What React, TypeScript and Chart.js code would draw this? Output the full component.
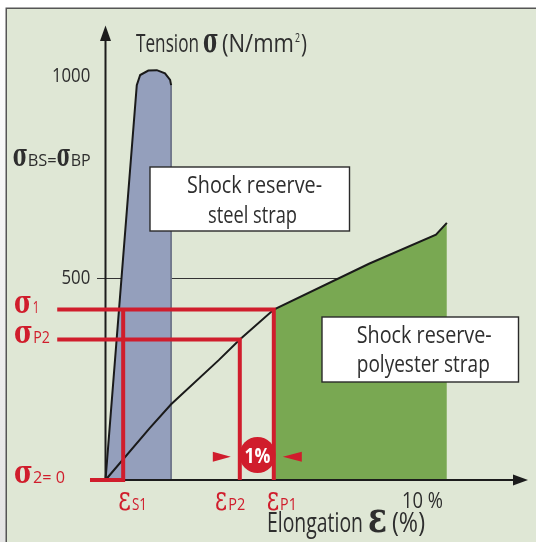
import React, { useEffect, useRef } from "react";
import { Chart, registerables } from "chart.js";
Chart.register(...registerables);

// ---- Data (strain ε in %, stress σ in N/mm²) ----
const steelStrain = [0, 0.92, 1.02, 1.26, 1.51, 1.75, 1.9, 1.93];
const steelStress = [0, 975, 1000, 1011, 1012, 1004, 988, 975];
const polyStrain = [0, 1.3, 1.93, 3.33, 3.95, 4.95, 7.75, 9.72, 10.04];
const polyStress = [0, 128, 187, 296, 347, 421, 534, 606, 635];
const polyReserveStart = 5; // index of εP1 in the polyester arrays
const strainMarks = [0.52, 3.95, 4.95]; // εS1, εP2, εP1
const stressMarks = [421, 347]; // σ1, σP2
const redLineStart = -1.42; // strain where σ1 / σP2 guides start
const sigma2Start = -0.456;
const yTickValues = [1000, 500];
const yTickLabels = ["1000", "500"];
const xTickValues = [10];
const xTickLabels = ["10 %"];
const gridStress = 500;
const gridEndStrain = 6.91;

const RED = "#d01d2c";
const BLUE = "#949fbc";
const GREEN = "#79a852";
const BG = "#dfe7d5";
const TXT = "#2e2e2e";
const SANS = '"Open Sans", "Liberation Sans", Arial, sans-serif';
const SERIF = '"DejaVu Serif", "Liberation Serif", serif';

type Run = { t: string; font: string; w?: number; sx?: number; dy?: number; gap?: number; color?: string };

function runsWidth(ctx: CanvasRenderingContext2D, runs: Run[]) {
  let w = 0;
  for (const r of runs) {
    ctx.font = r.font;
    const m = ctx.measureText(r.t).width;
    const sx = r.w ? r.w / m : r.sx ?? 1;
    w += (r.gap || 0) + m * sx;
  }
  return w;
}

function drawRuns(ctx: CanvasRenderingContext2D, x: number, y: number, runs: Run[], color: string, align: "left" | "right" | "center" = "left") {
  let cx = x;
  if (align !== "left") {
    const tw = runsWidth(ctx, runs);
    cx = align === "right" ? x - tw : x - tw / 2;
  }
  for (const r of runs) {
    cx += r.gap || 0;
    ctx.font = r.font;
    const m = ctx.measureText(r.t).width;
    const sx = r.w ? r.w / m : r.sx ?? 1;
    ctx.save();
    ctx.translate(cx, y + (r.dy || 0));
    ctx.scale(sx, 1);
    ctx.fillStyle = r.color || color;
    ctx.textAlign = "left";
    ctx.textBaseline = "alphabetic";
    ctx.fillText(r.t, 0, 0);
    ctx.restore();
    cx += m * sx;
  }
}

const pts = (xs: number[], ys: number[]) => xs.map((x, i) => ({ x, y: ys[i] }));

export default function App() {
  const ref = useRef<HTMLCanvasElement | null>(null);
  useEffect(() => {
    if (!ref.current) return;
    let axesDrawn = false;
    const px = (chart: any) => ({
      X: (v: number) => chart.scales.x.getPixelForValue(v),
      Y: (v: number) => chart.scales.y.getPixelForValue(v),
    });

    const deco = {
      id: "deco",
      beforeDraw(chart: any) {
        const ctx = chart.ctx as CanvasRenderingContext2D;
        const W = chart.width, H = chart.height;
        ctx.save();
        ctx.fillStyle = "#ffffff";
        ctx.fillRect(0, 0, W, H);
        const g = ctx.createLinearGradient(0, 0, 0, H);
        g.addColorStop(0, "#ffffff");
        g.addColorStop(1, "#e4e4e4");
        ctx.fillStyle = g;
        ctx.fillRect(0, 8, 6, H);
        ctx.fillStyle = BG;
        ctx.fillRect(6, 8, W, H);
        ctx.strokeStyle = "#555";
        ctx.lineWidth = 1.5;
        ctx.strokeRect(6.25, 8.25, W + 20, H + 20);
        ctx.restore();
      },
      beforeDatasetsDraw(chart: any) {
        axesDrawn = false;
        const ctx = chart.ctx as CanvasRenderingContext2D;
        const { X, Y } = px(chart);
        ctx.save();
        ctx.strokeStyle = "#333";
        ctx.lineWidth = 1;
        ctx.beginPath();
        ctx.moveTo(X(0) - 8.5, Math.round(Y(gridStress)) + 0.5);
        ctx.lineTo(X(gridEndStrain), Math.round(Y(gridStress)) + 0.5);
        ctx.stroke();
        ctx.restore();
      },
      beforeDatasetDraw(chart: any, args: any) {
        const ds = chart.data.datasets[args.index];
        if (axesDrawn || !String(ds.label).startsWith("red")) return;
        axesDrawn = true;
        const ctx = chart.ctx as CanvasRenderingContext2D;
        const { X, Y } = px(chart);
        const x0 = X(0), y0 = Y(0);
        ctx.save();
        ctx.strokeStyle = "#1c1c1c";
        ctx.fillStyle = "#1c1c1c";
        ctx.lineWidth = 2;
        ctx.beginPath();
        ctx.moveTo(x0, y0 + 1);
        ctx.lineTo(x0, 38);
        ctx.moveTo(x0 - 1, y0);
        ctx.lineTo(516, y0);
        ctx.stroke();
        ctx.beginPath();
        ctx.moveTo(x0, 25.5);
        ctx.lineTo(x0 + 5.5, 41);
        ctx.lineTo(x0 - 5.5, 41);
        ctx.closePath();
        ctx.fill();
        ctx.beginPath();
        ctx.moveTo(528, y0);
        ctx.lineTo(513, y0 - 5.5);
        ctx.lineTo(513, y0 + 5.5);
        ctx.closePath();
        ctx.fill();
        ctx.restore();
      },
      afterDatasetsDraw(chart: any) {
        const ctx = chart.ctx as CanvasRenderingContext2D;
        const { X, Y } = px(chart);
        ctx.save();
        // text boxes
        const box = (l: number, t: number, r: number, b: number) => {
          ctx.fillStyle = "#ffffff";
          ctx.fillRect(l, t, r - l, b - t);
          ctx.strokeStyle = "#2a2a2a";
          ctx.lineWidth = 1.4;
          ctx.strokeRect(l, t, r - l, b - t);
        };
        box(150, 167, 349.5, 231);
        box(322, 317, 518.5, 382);
        const bf = `24px ${SANS}`;
        drawRuns(ctx, 254.5, 193.3, [{ t: "Shock reserve-", font: bf, w: 135 }], TXT, "center");
        drawRuns(ctx, 252.5, 223.3, [{ t: "steel strap", font: bf, w: 89 }], TXT, "center");
        drawRuns(ctx, 424.2, 343.3, [{ t: "Shock reserve-", font: bf, w: 135 }], TXT, "center");
        drawRuns(ctx, 423.3, 372, [{ t: "polyester strap", font: bf, w: 133 }], TXT, "center");

        // 1% marker
        const xP2 = X(strainMarks[1]), xP1 = X(strainMarks[2]);
        const cy = Y(0) - 25;
        const cx = (xP2 + xP1) / 2 + 0.7;
        ctx.fillStyle = RED;
        ctx.beginPath();
        ctx.arc(cx, cy, 18, 0, Math.PI * 2);
        ctx.fill();
        drawRuns(ctx, cx, cy + 7.5, [{ t: "1%", font: `bold 22px ${SANS}`, w: 26 }], "#ffffff", "center");
        const ty = cy + 1.7;
        ctx.beginPath();
        ctx.moveTo(xP2 - 9, ty);
        ctx.lineTo(xP2 - 27, ty - 5);
        ctx.lineTo(xP2 - 27, ty + 5);
        ctx.closePath();
        ctx.fill();
        ctx.beginPath();
        ctx.moveTo(xP1 + 9, ty);
        ctx.lineTo(xP1 + 28, ty - 5);
        ctx.lineTo(xP1 + 28, ty + 5);
        ctx.closePath();
        ctx.fill();

        // tick labels
        const tf = `20px ${SANS}`;
        yTickValues.forEach((v, i) => {
          drawRuns(ctx, 90.3, Y(v) + 6.5, [{ t: yTickLabels[i], font: tf, sx: 0.84 }], TXT, "right");
        });
        xTickValues.forEach((v, i) => {
          drawRuns(ctx, X(v) - 2.5, 508, [{ t: xTickLabels[i], font: `21px ${SANS}`, w: 41 }], TXT, "right");
        });

        // axis titles
        drawRuns(ctx, 136, 52, [
          { t: "Tension", font: `25px ${SANS}`, w: 63 },
          { t: "σ", font: `bold 36px ${SERIF}`, w: 15.5, gap: 4 },
          { t: "(N/mm", font: `25px ${SANS}`, w: 72, gap: 3.5 },
          { t: "2", font: `13px ${SANS}`, w: 5, dy: -10, gap: 1 },
          { t: ")", font: `25px ${SANS}`, w: 6, gap: 1 },
        ], TXT);
        drawRuns(ctx, 267, 531.7, [
          { t: "Elongation", font: `27px ${SANS}`, w: 96 },
          { t: "ε", font: `bold 42px ${SERIF}`, w: 19, gap: 5 },
          { t: "(%)", font: `27px ${SANS}`, w: 33, gap: 5 },
        ], TXT);

        // σ labels
        const sig = `bold 32px ${SERIF}`;
        const sub = `16px ${SANS}`;
        drawRuns(ctx, 12.7, 166, [
          { t: "σ", font: sig, w: 15 },
          { t: "BS=", font: sub, w: 29 },
          { t: "σ", font: sig, w: 14 },
          { t: "BP", font: sub, w: 20 },
        ], TXT);
        const rsig = `bold 32px ${SERIF}`;
        drawRuns(ctx, 14, Y(stressMarks[0]) + 4, [
          { t: "σ", font: rsig, w: 17.7 },
          { t: "1", font: `17px ${SANS}`, w: 6.5, gap: 1 },
        ], RED);
        drawRuns(ctx, 14, Y(stressMarks[1]) + 4, [
          { t: "σ", font: rsig, w: 18.7 },
          { t: "P2", font: `17px ${SANS}`, w: 16.7, gap: 0.6 },
        ], RED);
        drawRuns(ctx, 14, Y(0) + 2.7, [
          { t: "σ", font: rsig, w: 18.7 },
          { t: "2= 0", font: `17px ${SANS}`, w: 32, gap: 0.3 },
        ], RED);

        // ε labels
        const eps = `36px ${SERIF}`;
        const esub = `16px ${SANS}`;
        drawRuns(ctx, X(strainMarks[0]) - 4.9, 510, [
          { t: "ε", font: eps, w: 12.6 },
          { t: "S1", font: esub, w: 15, gap: 1 },
        ], RED);
        drawRuns(ctx, X(strainMarks[1]) - 24.8, 510, [
          { t: "ε", font: eps, w: 12 },
          { t: "P2", font: esub, w: 17, gap: 1.3 },
        ], RED);
        drawRuns(ctx, X(strainMarks[2]) - 7.1, 510, [
          { t: "ε", font: eps, w: 12.4 },
          { t: "P1", font: esub, w: 16.7, gap: 1 },
        ], RED);
        ctx.restore();
      },
    };

    const redLine = (label: string, data: { x: number; y: number }[]) => ({
      label,
      data,
      borderColor: RED,
      borderWidth: 4,
      borderJoinStyle: "miter" as const,
      borderCapStyle: "butt" as const,
      fill: false,
      order: 0,
      clip: false as any,
    });

    const steelLast = steelStrain.length - 1;
    const chart = new Chart(ref.current, {
      type: "line",
      data: {
        datasets: [
          redLine("red-s1", [
            { x: redLineStart, y: stressMarks[0] },
            { x: strainMarks[2], y: stressMarks[0] },
            { x: strainMarks[2], y: 0 },
          ]),
          redLine("red-p2", [
            { x: redLineStart, y: stressMarks[1] },
            { x: strainMarks[1], y: stressMarks[1] },
            { x: strainMarks[1], y: 0 },
          ]),
          redLine("red-es1", [
            { x: strainMarks[0], y: stressMarks[0] },
            { x: strainMarks[0], y: 0 },
            { x: sigma2Start, y: 0 },
          ]),
          {
            label: "steel-line",
            data: pts(steelStrain, steelStress),
            borderColor: "#1a1a1a",
            borderWidth: 2,
            fill: false,
            order: 1,
            clip: false as any,
          },
          {
            label: "poly-line",
            data: pts(polyStrain, polyStress),
            borderColor: "#1a1a1a",
            borderWidth: 2,
            fill: false,
            order: 1,
            clip: false as any,
          },
          {
            label: "steel-edge",
            data: [
              { x: steelStrain[steelLast], y: steelStress[steelLast] },
              { x: steelStrain[steelLast], y: 0 },
            ],
            borderColor: "#6c7386",
            borderWidth: 1,
            fill: false,
            order: 2,
            clip: false as any,
          },
          {
            label: "steel-fill",
            data: pts(steelStrain, steelStress),
            borderWidth: 0,
            borderColor: "rgba(0,0,0,0)",
            backgroundColor: BLUE,
            fill: "origin",
            order: 3,
            clip: false as any,
          },
          {
            label: "poly-fill",
            data: pts(polyStrain.slice(polyReserveStart), polyStress.slice(polyReserveStart)),
            borderWidth: 0,
            borderColor: "rgba(0,0,0,0)",
            backgroundColor: GREEN,
            fill: "origin",
            order: 3,
            clip: false as any,
          },
        ],
      },
      options: {
        animation: false,
        responsive: false,
        devicePixelRatio: 1,
        events: [],
        layout: { padding: { left: 3.5, right: 5.5, top: 14.25, bottom: 21.5 } },
        elements: { point: { radius: 0 }, line: { tension: 0 } },
        plugins: { legend: { display: false }, tooltip: { enabled: false }, title: { display: false } },
        scales: {
          x: { type: "linear", min: -3, max: 12.5, display: false },
          y: { type: "linear", min: -100, max: 1150, display: false },
        },
      },
      plugins: [deco],
    });
    return () => chart.destroy();
  }, []);

  return (
    <div style={{ position: "absolute", left: 0, top: 0, width: 536, height: 542 }}>
      <canvas ref={ref} width={536} height={542} style={{ display: "block" }} />
    </div>
  );
}
